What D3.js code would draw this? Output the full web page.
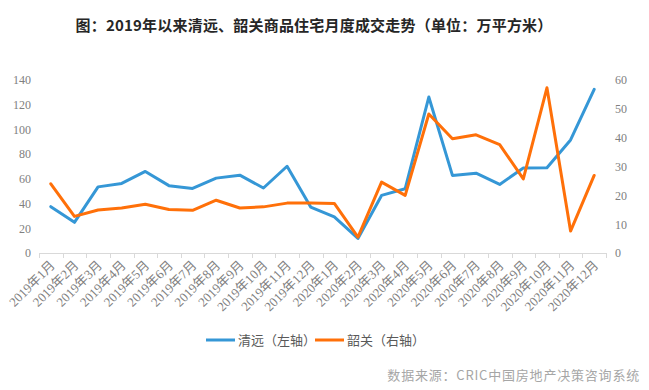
<!DOCTYPE html>
<html>
<head>
<meta charset="utf-8">
<script src="https://cdn.jsdelivr.net/npm/d3@7"></script>
<style>
  body { margin: 0; background: #fff; }
  svg { display: block; }
  .axis-label { font-family: "Liberation Serif", "Noto Sans CJK SC", serif; font-size: 12px; fill: #808080; }
  .x-label { font-family: "Liberation Serif", "Noto Sans CJK SC", serif; font-size: 13px; fill: #808080; }
  .legend-text { font-family: "Noto Sans CJK SC", sans-serif; font-size: 13px; fill: #595959; }
</style>
</head>
<body>
<div id="chart"></div>
<script>
// months, 2019-01 .. 2020-12
const MONTHS = [
  '2019年1月', '2019年2月', '2019年3月', '2019年4月', '2019年5月', '2019年6月',
  '2019年7月', '2019年8月', '2019年9月', '2019年10月', '2019年11月', '2019年12月',
  '2020年1月', '2020年2月', '2020年3月', '2020年4月', '2020年5月', '2020年6月',
  '2020年7月', '2020年8月', '2020年9月', '2020年10月', '2020年11月', '2020年12月'
];

// 清远, left axis
const QINGYUAN = [
  37.5, 24.8, 53.5, 56.3, 66.0, 54.5, 52.2, 60.6, 63.0, 52.6, 70.2, 37.2,
  29.2, 11.8, 46.6, 52.0, 126.2, 62.8, 64.6, 55.5, 68.7, 69.0, 91.5, 132.5
];

// 韶关, right axis
const SHAOGUAN = [
  24.0, 12.7, 14.9, 15.6, 16.9, 15.1, 14.8, 18.3, 15.6, 16.0, 17.3, 17.3,
  17.2, 5.5, 24.6, 20.0, 48.2, 39.6, 41.0, 37.6, 25.7, 57.3, 7.6, 26.9
];

const LEFT_TICKS = [0, 20, 40, 60, 80, 100, 120, 140];
const RIGHT_TICKS = [0, 10, 20, 30, 40, 50, 60];

const SERIES = [
  { name: '清远（左轴）', values: QINGYUAN, color: '#3597d6', axis: 'left' },
  { name: '韶关（右轴）', values: SHAOGUAN, color: '#ff7009', axis: 'right' }
];

const width = 649;
const height = 390;
const margin = { top: 80, right: 43, bottom: 137, left: 39 };

const svg = d3.select('#chart').append('svg')
  .attr('width', width)
  .attr('height', height);

// title
svg.append('text')
  .attr('x', 314)
  .attr('y', 31)
  .attr('text-anchor', 'middle')
  .style('font-family', '"Noto Sans CJK SC", sans-serif')
  .style('font-size', '15px')
  .style('font-weight', 'bold')
  .style('letter-spacing', '0.2px')
  .style('fill', '#262626')
  .text('图：2019年以来清远、韶关商品住宅月度成交走势（单位：万平方米）');

const x = d3.scaleBand()
  .domain(MONTHS)
  .range([margin.left, width - margin.right])
  .paddingInner(0)
  .paddingOuter(0);

const yLeft = d3.scaleLinear()
  .domain([0, 140])
  .range([height - margin.bottom, margin.top]);

const yRight = d3.scaleLinear()
  .domain([0, 60])
  .range([height - margin.bottom, margin.top]);

const baseY = height - margin.bottom;

// left axis labels
const leftAxis = svg.append('g')
  .attr('transform', `translate(${ margin.left - 8 }, 0)`)
  .call(d3.axisLeft(yLeft).tickValues(LEFT_TICKS).tickSize(0).tickPadding(0));
leftAxis.select('.domain').remove();
leftAxis.selectAll('text').attr('class', 'axis-label').attr('fill', null);

// right axis labels
const rightAxis = svg.append('g')
  .attr('transform', `translate(${ width - margin.right + 9 }, 0)`)
  .call(d3.axisRight(yRight).tickValues(RIGHT_TICKS).tickSize(0).tickPadding(0));
rightAxis.select('.domain').remove();
rightAxis.selectAll('text').attr('class', 'axis-label').attr('fill', null);

// x axis line + ticks between bands
const xAxisG = svg.append('g');
xAxisG.append('line')
  .attr('x1', x.range()[0])
  .attr('x2', x.range()[1])
  .attr('y1', baseY + 0.5)
  .attr('y2', baseY + 0.5)
  .attr('stroke', '#d9d9d9')
  .attr('stroke-width', 1);

const tickPositions = MONTHS.map((d) => x(d)).concat([x.range()[1]]);
xAxisG.selectAll('.x-tick')
  .data(tickPositions)
  .enter()
  .append('line')
    .attr('class', 'x-tick')
    .attr('x1', (d) => Math.round(d) + 0.5)
    .attr('x2', (d) => Math.round(d) + 0.5)
    .attr('y1', baseY)
    .attr('y2', baseY + 5)
    .attr('stroke', '#d9d9d9');

xAxisG.selectAll('.x-label')
  .data(MONTHS)
  .enter()
  .append('text')
    .attr('class', 'x-label')
    .attr('text-anchor', 'end')
    .attr('transform', (d) => {
      const cx = x(d) + x.bandwidth() / 2 + 5;
      return `translate(${ cx }, ${ baseY + 13 }) rotate(-45)`;
    })
    .text((d) => d);

// lines
SERIES.forEach((s) => {
  const yScale = s.axis === 'left' ? yLeft : yRight;
  const line = d3.line()
    .x((d, i) => x(MONTHS[i]) + x.bandwidth() / 2)
    .y((d) => yScale(d));

  svg.append('path')
    .datum(s.values)
    .attr('fill', 'none')
    .attr('stroke', s.color)
    .attr('stroke-width', 3)
    .attr('stroke-linejoin', 'round')
    .attr('stroke-linecap', 'round')
    .attr('d', line);
});

// legend
const legendX = [206, 315];
const legend = svg.append('g').attr('class', 'legend');
SERIES.forEach((s, i) => {
  const g = legend.append('g').attr('transform', `translate(${ legendX[i] }, 340)`);
  g.append('line')
    .attr('x1', 0).attr('x2', 29)
    .attr('y1', 0).attr('y2', 0)
    .attr('stroke', s.color)
    .attr('stroke-width', 3);
  g.append('text')
    .attr('class', 'legend-text')
    .attr('x', 32)
    .attr('y', 5)
    .text(s.name);
});

// source
svg.append('text')
  .attr('x', 640)
  .attr('y', 380)
  .attr('text-anchor', 'end')
  .style('font-family', '"Noto Sans CJK SC", sans-serif')
  .style('font-size', '13px')
  .style('letter-spacing', '0.8px')
  .style('fill', '#a6a6a6')
  .text('数据来源：CRIC中国房地产决策咨询系统');
</script>
</body>
</html>
